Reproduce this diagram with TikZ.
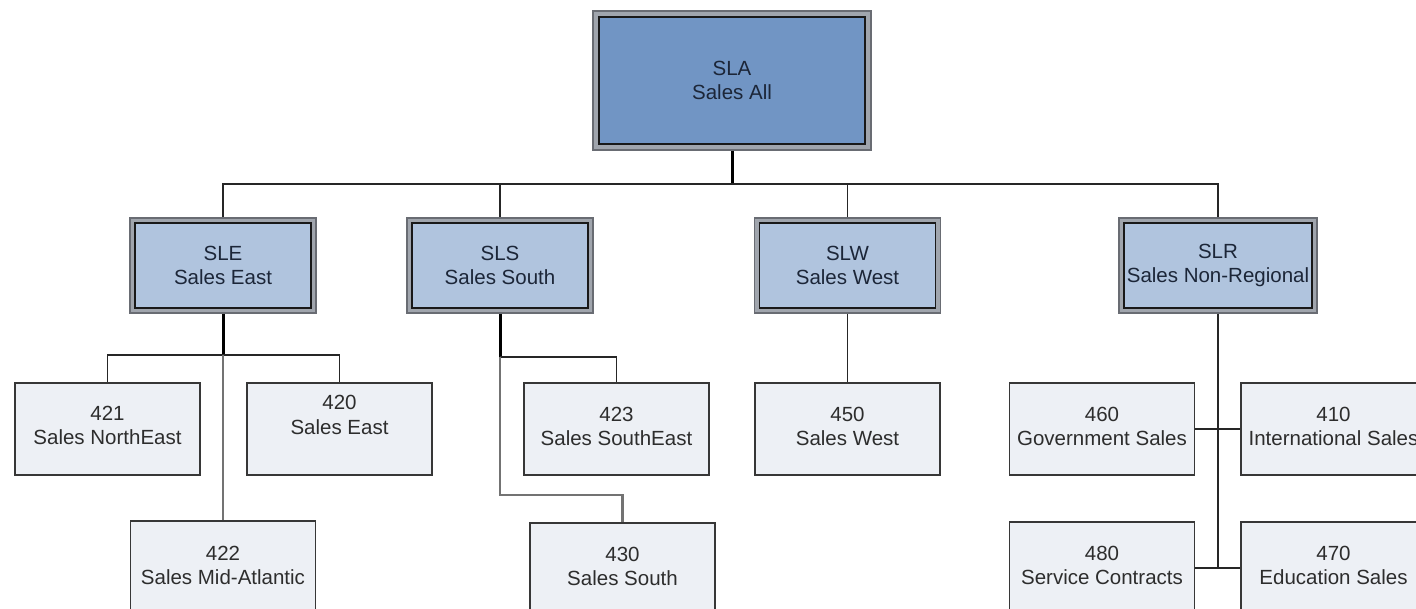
\documentclass[tikz,border=0pt]{standalone}
\usepackage{fontspec}
\setmainfont{Liberation Sans}
\definecolor{topfill}{RGB}{113,149,196}
\definecolor{midfill}{RGB}{176,196,222}
\definecolor{leaffill}{RGB}{237,240,245}
\definecolor{leafline}{RGB}{55,55,55}
\definecolor{frame}{RGB}{160,165,173}
\definecolor{frameline}{RGB}{105,108,115}
\definecolor{darktext}{RGB}{28,38,56}
\definecolor{leaftext}{RGB}{45,45,45}
\tikzset{
  outerbox/.style={rectangle, draw=frameline, fill=frame, line width=1.6pt, inner sep=0pt},
  innerbox/.style={rectangle, draw=black!90, fill=#1, line width=1.8pt, inner sep=0pt,
    align=center, text=darktext, font=\fontsize{20.5}{24.5}\selectfont},
  leafbox/.style={rectangle, draw=leafline, fill=leaffill, line width=1.6pt, inner sep=0pt,
    minimum width=185pt, minimum height=92pt, anchor=north},
  leaftxt/.style={align=center, text=leaftext, font=\fontsize{20.5}{24.5}\selectfont, inner sep=0pt},
  conn/.style={draw=black!85, line width=1.7pt},
  thickc/.style={draw=black, line width=3pt},
  grayc/.style={draw=black!55, line width=2.2pt},
}
\begin{document}
\begin{tikzpicture}[x=1pt,y=-1pt]
\useasboundingbox (0,0) rectangle (1416,609);
\fill[white] (0,0) rectangle (1416,609);
\clip (0,0) rectangle (1416,609);
% top
\node[outerbox, minimum width=278pt, minimum height=139pt] (sla) at (732,80.5) {};
\node[innerbox=topfill, minimum width=266pt, minimum height=127pt] (slai) at (732,80.5) {SLA\\Sales All};
% second level
\node[outerbox, minimum width=186pt, minimum height=95pt] (sle) at (223,265.5) {};
\node[innerbox=midfill, minimum width=176pt, minimum height=85pt] (slei) at (223,265.5) {SLE\\Sales East};
\node[outerbox, minimum width=186pt, minimum height=95pt] (sls) at (500,265.5) {};
\node[innerbox=midfill, minimum width=176pt, minimum height=85pt] (slsi) at (500,265.5) {SLS\\Sales South};
\node[outerbox, minimum width=186pt, minimum height=95pt] (slw) at (847.5,265.5) {};
\node[innerbox=midfill, minimum width=176pt, minimum height=85pt] (slwi) at (847.5,265.5) {SLW\\Sales West};
\node[outerbox, minimum width=198pt, minimum height=95pt] (slr) at (1218,265.5) {};
\node[innerbox=midfill, minimum width=188pt, minimum height=85pt] (slri) at (1218,265.5) {SLR\\Sales Non-Regional};
% leaves
\node[leafbox] (b421) at (107.5,382) {};
\node[leafbox] (b420) at (339.5,382) {};
\node[leafbox] (b422) at (223,520) {};
\node[leafbox] (b423) at (616.5,382) {};
\node[leafbox] (b430) at (622.5,522) {};
\node[leafbox] (b450) at (847.5,382) {};
\node[leafbox] (b460) at (1102,382) {};
\node[leafbox] (b410) at (1333.5,382) {};
\node[leafbox] (b480) at (1102,521) {};
\node[leafbox] (b470) at (1333.5,521) {};
\node[leaftxt] (t421) at ([yshift=-43.5pt]b421.north) {421\\Sales NorthEast};
\node[leaftxt] (t420) at ([yshift=-33pt]b420.north) {420\\Sales East};
\node[leaftxt] (t422) at ([yshift=-45.5pt]b422.north) {422\\Sales Mid-Atlantic};
\node[leaftxt] (t423) at ([yshift=-44.5pt]b423.north) {423\\Sales SouthEast};
\node[leaftxt] (t430) at ([yshift=-44.5pt]b430.north) {430\\Sales South};
\node[leaftxt] (t450) at ([yshift=-44.5pt]b450.north) {450\\Sales West};
\node[leaftxt] (t460) at ([yshift=-44.5pt]b460.north) {460\\Government Sales};
\node[leaftxt] (t410) at ([yshift=-44.5pt]b410.north) {410\\International Sales};
\node[leaftxt] (t480) at ([yshift=-44.5pt]b480.north) {480\\Service Contracts};
\node[leaftxt] (t470) at ([yshift=-44.5pt]b470.north) {470\\Education Sales};
% connectors level 1
\coordinate (bus) at (732,184);
\draw[thickc] (sla.south) -- (bus);
\draw[conn] (sle.north) |- (slr.north |- bus) -- (slr.north);
\draw[conn] (sls.north) -- (sls.north |- bus);
\draw[conn] (slw.north) -- (slw.north |- bus);
% SLE
\coordinate (jE) at (223,355);
\draw[thickc] (sle.south) -- (jE);
\draw[conn] (b421.north) |- (jE) -| (b420.north);
\draw[grayc] (jE) -- (b422.north);
% SLS
\coordinate (jS) at (500,357);
\coordinate (jS2) at (500,495);
\draw[thickc] (sls.south) -- (jS);
\draw[conn] (jS) -| (b423.north);
\draw[grayc] (jS) -- (jS2) -| (b430.north);
% SLW
\draw[conn] (slw.south) -- (b450.north);
% SLR
\draw[conn] (slr.south) -- (slr.south |- b480.east);
\draw[conn] (b460.east) -- (b410.west);
\draw[conn] (b480.east) -- (b470.west);
\end{tikzpicture}
\end{document}
